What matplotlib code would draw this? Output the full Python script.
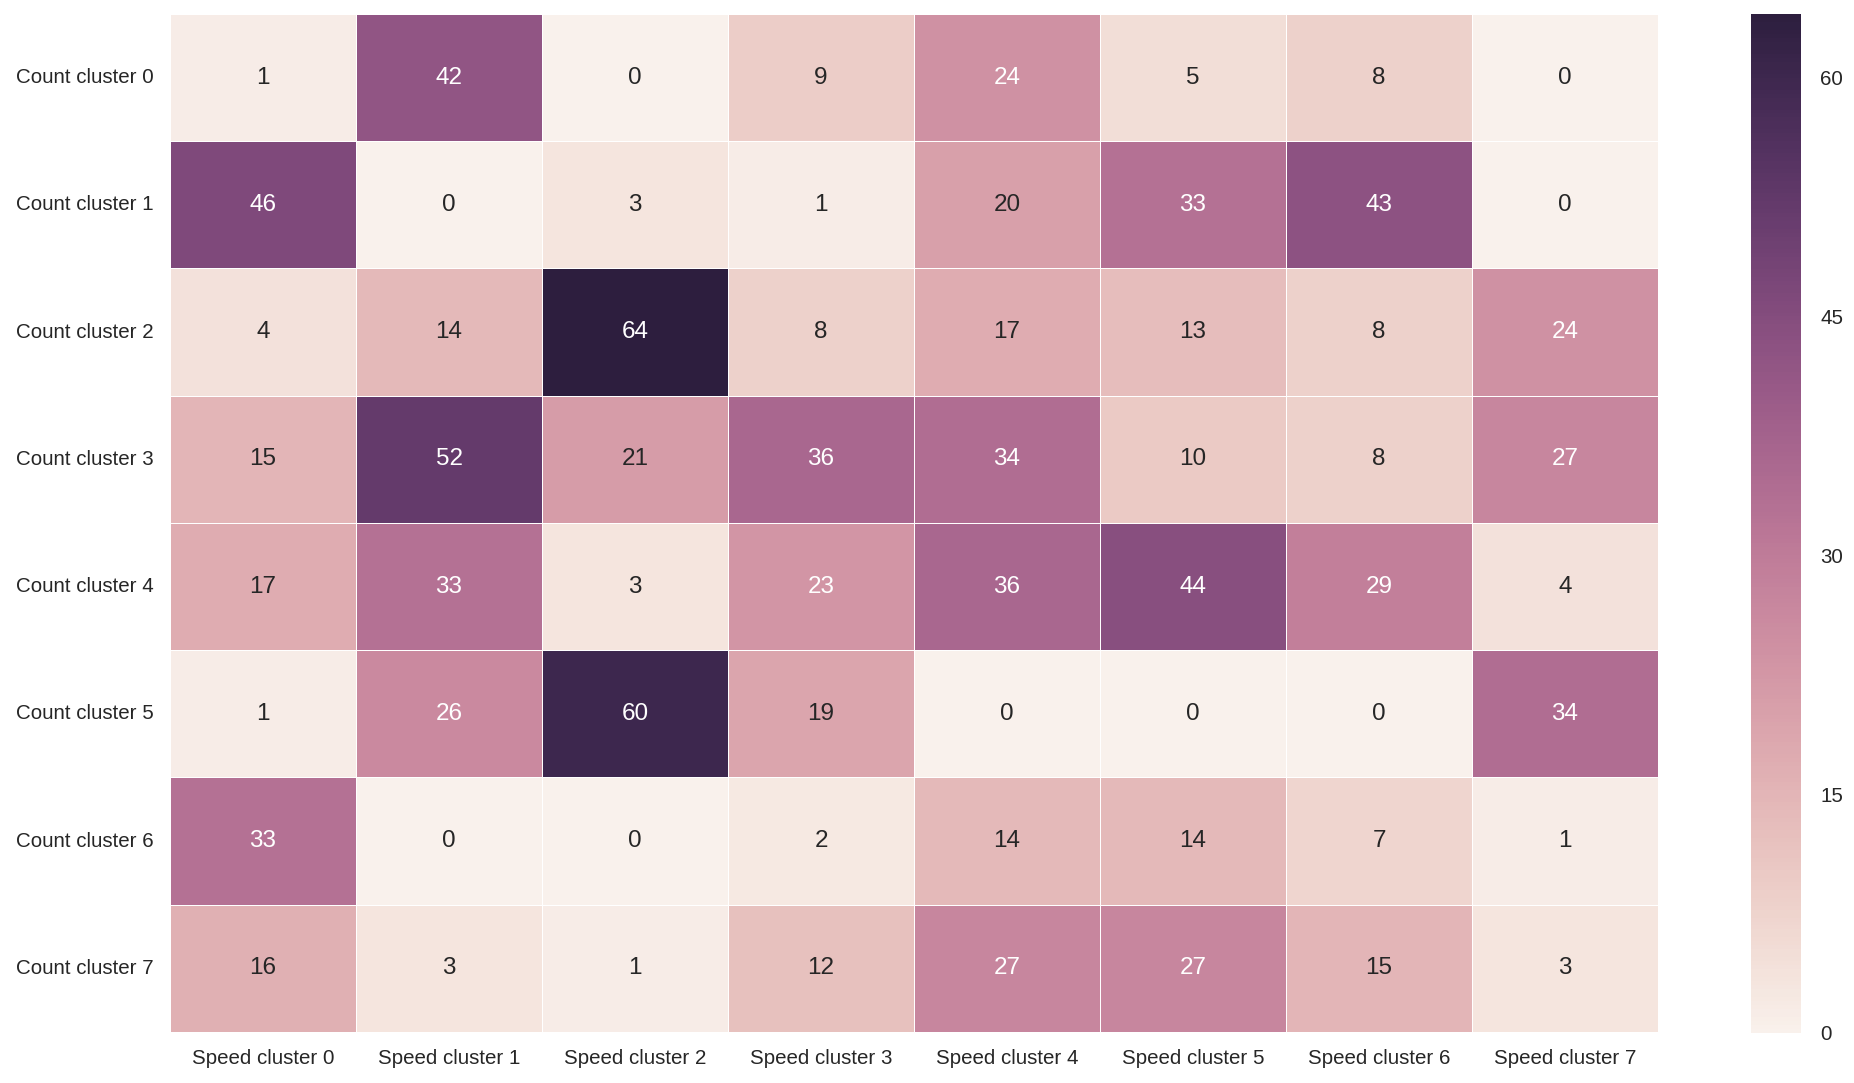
import numpy as np
import pandas as pd
import matplotlib
matplotlib.use('Agg')
import matplotlib.pyplot as plt
import seaborn as sns

speed_labels = ['Speed cluster %d' % i for i in range(8)]
count_labels = ['Count cluster %d' % i for i in range(8)]

row0 = [1, 42, 0, 9, 24, 5, 8, 0]
row1 = [46, 0, 3, 1, 20, 33, 43, 0]
row2 = [4, 14, 64, 8, 17, 13, 8, 24]
row3 = [15, 52, 21, 36, 34, 10, 8, 27]
row4 = [17, 33, 3, 23, 36, 44, 29, 4]
row5 = [1, 26, 60, 19, 0, 0, 0, 34]
row6 = [33, 0, 0, 2, 14, 14, 7, 1]
row7 = [16, 3, 1, 12, 27, 27, 15, 3]
cbar_ticks = [0, 15, 30, 45, 60]

sns.set_style('white')
plt.rcParams['font.family'] = ['Liberation Sans', 'DejaVu Sans']
plt.rcParams['text.color'] = '.15'
plt.rcParams['xtick.color'] = '.15'
plt.rcParams['ytick.color'] = '.15'

df = pd.DataFrame([row0, row1, row2, row3, row4, row5, row6, row7],
                  index=count_labels, columns=speed_labels)

fig = plt.figure(figsize=(18.54, 10.83), dpi=100)
ax = fig.add_axes([0.0917, 0.0471, 0.8026, 0.9400])
cax = fig.add_axes([0.9444, 0.0462, 0.0270, 0.9409])

cmap = sns.cubehelix_palette(light=.95, as_cmap=True)
sns.heatmap(df, ax=ax, cbar_ax=cax, cmap=cmap, annot=True, fmt='d',
            linewidths=0.6, linecolor='white',
            annot_kws={'fontsize': 17.5},
            cbar_kws={'ticks': cbar_ticks})

ax.tick_params(length=0, labelsize=14.8, pad=12)
ax.set_yticklabels(count_labels, rotation=0)
ax.set_xticklabels(speed_labels, rotation=0)
cax.tick_params(length=0, labelsize=14.8, pad=14)
cax.set_frame_on(False)

fig.savefig('out.png', dpi=100)
